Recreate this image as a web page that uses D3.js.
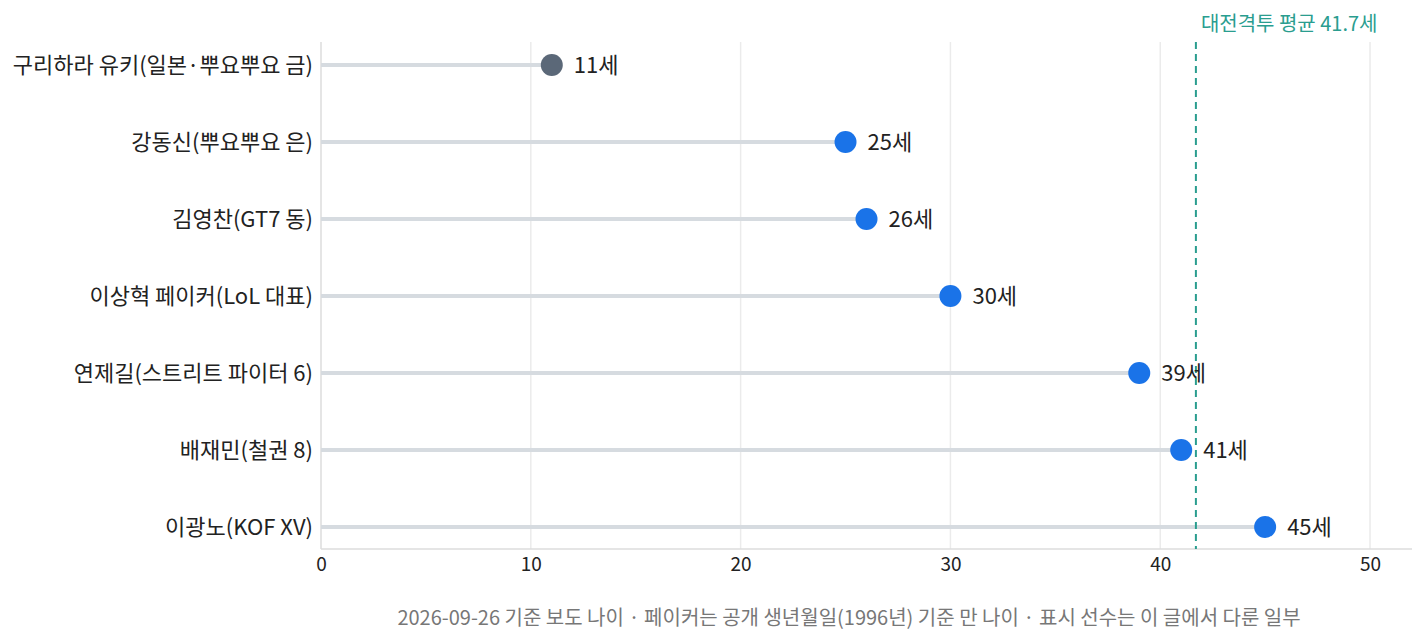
<!DOCTYPE html>
<html><head><meta charset="utf-8">
<script src="https://cdn.jsdelivr.net/npm/d3@7"></script>
<style>
body{margin:0;background:#fff;}
svg{display:block;font-family:"Noto Sans CJK KR","Noto Sans",sans-serif;}
</style></head>
<body><svg id="c" width="1428" height="644"></svg>
<script>
const categories = ["구리하라 유키(일본·뿌요뿌요 금)","강동신(뿌요뿌요 은)","김영찬(GT7 동)","이상혁 페이커(LoL 대표)","연제길(스트리트 파이터 6)","배재민(철권 8)","이광노(KOF XV)"];
const ages = [11,25,26,30,39,41,45];
const highlight = [true,false,false,false,false,false,false];
const xTicks = [0,10,20,30,40,50];
const meanAge = 41.7;
const meanLabel = "대전격투 평균 41.7세";
const footnote = "2026-09-26 기준 보도 나이 · 페이커는 공개 생년월일(1996년) 기준 만 나이 · 표시 선수는 이 글에서 다룬 일부";

const svg = d3.select("#c");
const m = {l:321, r:1412, t:42, b:549};
const x = d3.scaleLinear().domain([0,52]).range([m.l, m.r]);
const y = d3.scalePoint().domain(categories).range([65,527]);

// grid
svg.append("g").selectAll("line").data(xTicks.filter(d=>d>0)).join("line")
  .attr("x1",d=>x(d)).attr("x2",d=>x(d)).attr("y1",m.t).attr("y2",m.b)
  .attr("stroke","#ebebeb").attr("stroke-width",1.5);

// axes lines
svg.append("line").attr("x1",m.l).attr("x2",m.l).attr("y1",m.t).attr("y2",m.b).attr("stroke","#dcdcdc").attr("stroke-width",1.5);
svg.append("line").attr("x1",m.l).attr("x2",m.r).attr("y1",m.b).attr("y2",m.b).attr("stroke","#dcdcdc").attr("stroke-width",1.5);

// x tick labels
const xa = svg.append("g").attr("transform",`translate(0,${m.b})`)
  .call(d3.axisBottom(x).tickValues(xTicks).tickSize(0).tickPadding(9));
xa.select(".domain").remove();
xa.selectAll("text").attr("font-size",19).attr("fill","#222").attr("font-family","'Noto Sans CJK KR','Noto Sans',sans-serif");

// y labels
const ya = svg.append("g").attr("transform",`translate(${m.l},0)`)
  .call(d3.axisLeft(y).tickSize(0).tickPadding(8));
ya.select(".domain").remove();
ya.selectAll("text").attr("font-size",22).attr("fill","#222").attr("font-family","'Noto Sans CJK KR','Noto Sans',sans-serif");

// stems
const rows = categories.map((c,i)=>({c, v:ages[i], h:highlight[i]}));
svg.append("g").selectAll("line").data(rows).join("line")
  .attr("x1",x(0)).attr("x2",d=>x(d.v)).attr("y1",d=>y(d.c)).attr("y2",d=>y(d.c))
  .attr("stroke","#d6dbe0").attr("stroke-width",4);

// mean line
svg.append("line").attr("x1",x(meanAge)).attr("x2",x(meanAge)).attr("y1",m.t).attr("y2",m.b)
  .attr("stroke","#2a9d8f").attr("stroke-width",2).attr("stroke-dasharray","7,5");
svg.append("text").attr("x",x(meanAge)+5).attr("y",24).attr("dy","0.35em").attr("fill","#2a9d8f")
  .attr("font-size",20).text(meanLabel);

// dots
svg.append("g").selectAll("circle").data(rows).join("circle")
  .attr("cx",d=>x(d.v)).attr("cy",d=>y(d.c)).attr("r",11)
  .attr("fill",d=>d.h?"#5b6878":"#1a73e8");

// value labels
svg.append("g").selectAll("text").data(rows).join("text")
  .attr("x",d=>x(d.v)+22).attr("y",d=>y(d.c)).attr("dy","0.35em")
  .attr("font-size",22).attr("fill","#222").text(d=>d.v+"세");

// footnote
svg.append("text").attr("x",849).attr("y",618).attr("dy","0.35em").attr("text-anchor","middle")
  .attr("fill","#777").attr("font-size",20).text(footnote);
</script></body></html>
